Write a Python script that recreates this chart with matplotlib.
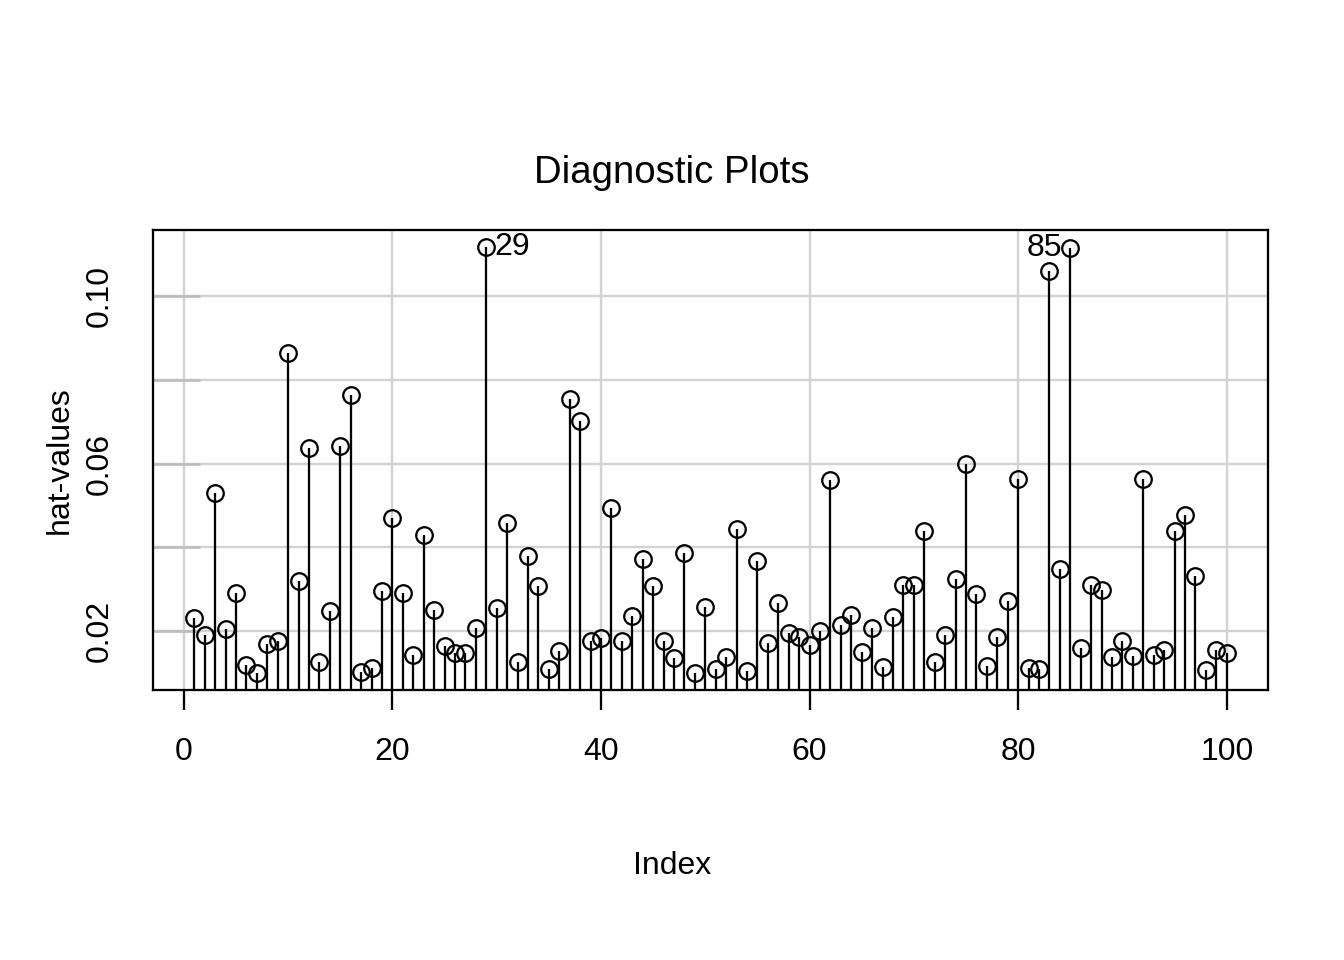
import matplotlib
matplotlib.use("Agg")
import matplotlib.pyplot as plt
import numpy as np

hat_values = [
    0.0231, 0.0190, 0.0529, 0.0205, 0.0290, 0.0119, 0.0100, 0.0169, 0.0176, 0.0864,
    0.0319, 0.0638, 0.0126, 0.0248, 0.0643, 0.0764, 0.0102, 0.0112, 0.0295, 0.0469,
    0.0290, 0.0143, 0.0429, 0.0250, 0.0164, 0.0148, 0.0148, 0.0207, 0.1117, 0.0255,
    0.0457, 0.0126, 0.0379, 0.0307, 0.0110, 0.0152, 0.0755, 0.0702, 0.0176, 0.0183,
    0.0495, 0.0176, 0.0236, 0.0371, 0.0307, 0.0176, 0.0136, 0.0386, 0.0100, 0.0257,
    0.0110, 0.0138, 0.0443, 0.0105, 0.0367, 0.0171, 0.0267, 0.0195, 0.0186, 0.0167,
    0.0200, 0.0560, 0.0214, 0.0238, 0.0150, 0.0207, 0.0114, 0.0233, 0.0310, 0.0310,
    0.0438, 0.0126, 0.0190, 0.0324, 0.0598, 0.0288, 0.0117, 0.0186, 0.0271, 0.0564,
    0.0112, 0.0110, 0.1060, 0.0348, 0.1114, 0.0160, 0.0310, 0.0298, 0.0138, 0.0176,
    0.0140, 0.0564, 0.0143, 0.0155, 0.0438, 0.0476, 0.0331, 0.0107, 0.0155, 0.0148,
]
index = list(range(1, len(hat_values) + 1))

# labelled points: (observation, side of the label)
labelled = [(29, "right"), (85, "left")]

x_ticks = [0, 20, 40, 60, 80, 100]
y_grid = [0.02, 0.04, 0.06, 0.08, 0.10]
y_labels = {0.02: "0.02", 0.06: "0.06", 0.10: "0.10"}

plt.rcParams["font.family"] = ["Liberation Sans", "DejaVu Sans"]

fig = plt.figure(figsize=(7, 5), dpi=192)
ax = fig.add_axes([0.1138, 0.2813, 0.8297, 0.4791])

x = np.array(index)
y = np.array(hat_values)

# R-style 4% axis padding
xr = x.max() - x.min()
yr = y.max() - y.min()
ax.set_xlim(x.min() - 0.04 * xr, x.max() + 0.04 * xr)
ax.set_ylim(y.min() - 0.04 * yr, y.max() + 0.04 * yr)

for gx in x_ticks:
    ax.axvline(gx, color="#d3d3d3", lw=0.9, zorder=0)
for gy in y_grid:
    ax.axhline(gy, color="#d3d3d3", lw=0.9, zorder=0)

ax.vlines(x, 0, y, color="black", lw=0.85, zorder=2)
ax.plot(x, y, linestyle="none", marker="o", markersize=6.2,
        markerfacecolor="none", markeredgecolor="black", markeredgewidth=0.85, zorder=3)

for obs, side in labelled:
    val = hat_values[obs - 1]
    if side == "right":
        ax.annotate(str(obs), (obs, val), xytext=(3, 0), textcoords="offset points",
                    ha="left", va="center", fontsize=12)
    else:
        ax.annotate(str(obs), (obs, val), xytext=(-3, 0), textcoords="offset points",
                    ha="right", va="center", fontsize=12)

ax.set_xticks(x_ticks)
ax.set_xticklabels([str(t) for t in x_ticks])
ax.tick_params(axis="x", direction="out", length=7.5, width=0.85, pad=10,
               labelsize=12, color="black")

ax.set_yticks(y_grid)
ax.set_yticklabels([y_labels.get(t, "") for t in y_grid], rotation=90, va="center")
ax.tick_params(axis="y", direction="in", length=17.5, width=1.0, pad=14.5,
               labelsize=12, color="#bdbdbd")

for spine in ax.spines.values():
    spine.set_linewidth(0.85)
    spine.set_color("black")

fig.text(0.5, 1 - 173 / 960, "Diagnostic Plots", ha="center", va="center", fontsize=14.4)
fig.text(0.5, 1 - 866 / 960, "Index", ha="center", va="center", fontsize=12)
fig.text(60 / 1344, 1 - 460 / 960, "hat-values", ha="center", va="center",
         rotation=90, fontsize=12)

fig.savefig("out.png", dpi=192)
